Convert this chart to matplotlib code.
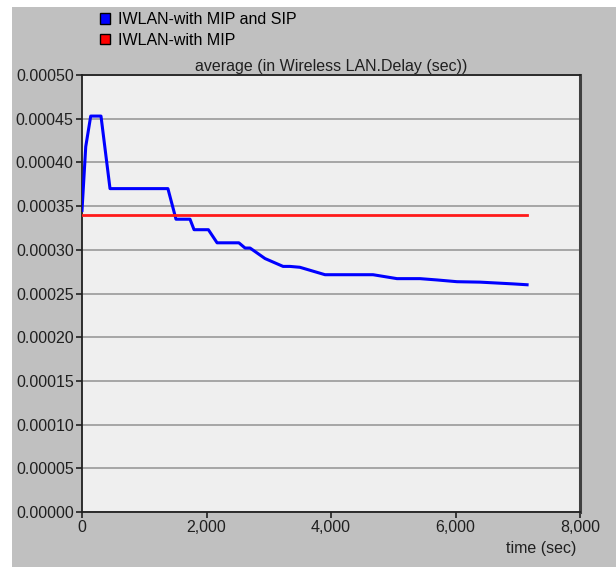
import matplotlib
matplotlib.use("Agg")
from matplotlib import pyplot as plt
from matplotlib.patches import Rectangle, Patch
from matplotlib.ticker import FuncFormatter

# 数据
sip_time = [0, 60, 140, 305, 450, 1380, 1510, 1735, 1800, 2030, 2170, 2520, 2620, 2700,
            2940, 3230, 3340, 3500, 3904, 4675, 5060, 5430, 5703, 6024, 6394, 6924, 7150]
sip_delay = [0.000345, 0.000418, 0.000453, 0.000453, 0.000370, 0.000370, 0.000335, 0.000335,
             0.000323, 0.000323, 0.000308, 0.000308, 0.000302, 0.000302, 0.000290, 0.000281,
             0.000281, 0.000280, 0.0002715, 0.0002715, 0.000267, 0.000267, 0.0002655,
             0.0002635, 0.000263, 0.000261, 0.000260]
mip_time = [0, 7150]
mip_delay = [0.00034, 0.00034]

series_names = ["IWLAN-with MIP and SIP", "IWLAN-with MIP"]
title = "average (in Wireless LAN.Delay (sec))"
x_ticks = [0, 2000, 4000, 6000, 8000]
y_ticks = [0.0, 0.00005, 0.0001, 0.00015, 0.0002, 0.00025, 0.0003, 0.00035, 0.0004, 0.00045, 0.0005]

W, H = 616, 567
plt.rcParams['font.family'] = ['Liberation Sans', 'DejaVu Sans']
fig = plt.figure(figsize=(W / 100, H / 100), dpi=100)
fig.patch.set_facecolor('white')

# 灰色背景
fig.patches.append(Rectangle((12 / W, 0), 1 - 12 / W, 1 - 7 / H, transform=fig.transFigure,
                             facecolor='#c0c0c0', edgecolor='none', zorder=-10))

ax = fig.add_axes([82 / W, (H - 512) / H, 498 / W, 437 / H])
ax.set_facecolor('#efefef')

ax.plot(sip_time, sip_delay, color='#0000ff', lw=2.2, zorder=3)
ax.plot(mip_time, mip_delay, color='#ff1a1a', lw=2.0, zorder=3)

ax.set_xlim(0, 8000)
ax.set_ylim(0, 0.0005)
ax.set_xticks(x_ticks)
ax.set_yticks(y_ticks)
ax.xaxis.set_major_formatter(FuncFormatter(lambda v, p: '{:,.0f}'.format(v)))
ax.yaxis.set_major_formatter(FuncFormatter(lambda v, p: '%.5f' % v))
ax.tick_params(axis='both', direction='out', length=4, width=1.2, color='#202020',
               labelsize=11.5, labelcolor='#202020', pad=2)
ax.grid(axis='y', color='#a0a0a0', lw=1.3)
ax.set_axisbelow(True)
for s in ax.spines.values():
    s.set_color('#202020')
    s.set_linewidth(1.3)
ax.spines['right'].set_color('#404040')
ax.spines['right'].set_linewidth(2.2)

ax.set_title(title, fontsize=11.5, color='#202020', pad=3)
fig.text(576 / W, 1 - 549 / H, "time (sec)", ha='right', va='center', fontsize=11.5, color='#202020')

handles = [Patch(facecolor='#0000ff', edgecolor='black', lw=1),
           Patch(facecolor='#ff0000', edgecolor='black', lw=1)]
fig.legend(handles, series_names, loc='upper left', bbox_to_anchor=(100 / W, 1 - 12 / H),
           frameon=False, fontsize=11.5, handlelength=0.65, handleheight=0.65,
           handletextpad=0.45, labelspacing=0.35, borderaxespad=0, borderpad=0)

fig.savefig("out.png", dpi=100)
